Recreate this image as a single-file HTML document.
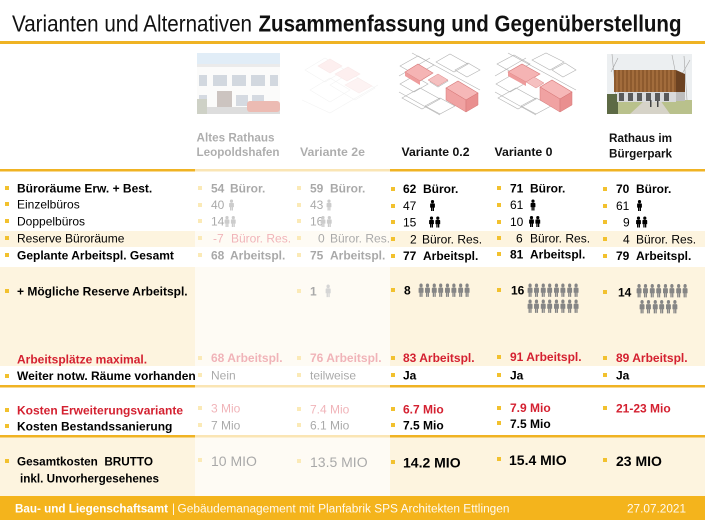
<!DOCTYPE html>
<html>
<head>
<meta charset="utf-8">
<style>
html,body{margin:0;padding:0;background:#fff;}
svg{display:block;}
text{font-family:"Liberation Sans",Arial,sans-serif;}
</style>
</head>
<body>
<svg width="705" height="529" viewBox="0 0 705 529" xmlns="http://www.w3.org/2000/svg">
<rect x="0" y="0" width="705" height="529" fill="#ffffff"/>

<!-- Title -->
<text x="12" y="31.5" font-size="23" fill="#111" textLength="240" lengthAdjust="spacingAndGlyphs">Varianten und Alternativen</text>
<text x="258.5" y="31.5" font-size="23" font-weight="bold" fill="#111" textLength="423" lengthAdjust="spacingAndGlyphs">Zusammenfassung und Gegenüberstellung</text>
<rect x="0" y="41" width="705" height="3" fill="#efb323"/>

<!-- Bands -->
<rect x="0" y="231" width="705" height="16" fill="#fdf4df"/>
<rect x="0" y="267" width="705" height="99" fill="#fdf4df"/>
<rect x="0" y="437" width="705" height="59" fill="#fdf4df"/>

<!-- Lines -->
<rect x="0" y="169" width="705" height="2.5" fill="#f0b323"/>
<rect x="0" y="385" width="705" height="2.5" fill="#f0b323"/>
<rect x="0" y="435" width="705" height="2.5" fill="#f0b323"/>

<!-- Image 1: Altes Rathaus photo -->
<g>
<rect x="197" y="53" width="83" height="61" fill="#eef1f3"/>
<rect x="197" y="53" width="83" height="14" fill="#a7c9e8"/>
<rect x="197" y="64" width="83" height="3" fill="#c4c4c4"/>
<rect x="197" y="67" width="83" height="40" fill="#f3f3f1"/>
<rect x="199" y="75" width="8" height="11" fill="#7d8ea0"/>
<rect x="213" y="75" width="14" height="11" fill="#7d8ea0"/>
<rect x="232" y="75" width="14" height="11" fill="#7d8ea0"/>
<rect x="251" y="75" width="14" height="11" fill="#7d8ea0"/>
<rect x="270" y="75" width="8" height="11" fill="#7d8ea0"/>
<rect x="199" y="95" width="8" height="11" fill="#8494a6"/>
<rect x="236" y="95" width="12" height="11" fill="#8494a6"/>
<rect x="252" y="95" width="12" height="8" fill="#8494a6"/>
<rect x="217" y="91" width="15" height="17" fill="#6a5446"/>
<rect x="197" y="107" width="83" height="7" fill="#9c9c9c"/>
<rect x="247" y="101" width="33" height="11" rx="3" fill="#c63a22"/>
<rect x="197" y="99" width="10" height="15" fill="#6f7a5a"/>
</g>

<!-- Image 2: Variante 2e (faint) -->
<g opacity="0.55" stroke="#bdbdbd" stroke-width="0.6" fill="none">
<polygon points="305,70 325,58 345,70 325,82"/>
<polygon points="330,85 350,73 375,88 355,100"/>
<polygon points="310,90 330,78 350,90 330,102"/>
<polyline points="302,100 330,113 378,85"/>
<polygon points="318,66 330,59 342,66 330,73" fill="#f3aaaa" stroke="#d88"/>
<polygon points="335,74 348,67 360,74 347,81" fill="#f3aaaa" stroke="#d88"/>
<polygon points="345,85 358,78 372,86 359,93" fill="#f6c0c0" stroke="#d99"/>
</g>

<!-- Image 3: Variante 0.2 -->
<g>
<rect x="399" y="53" width="81" height="62" fill="#ffffff"/>
<g stroke="#b3b3b3" stroke-width="0.6" fill="none">
<polygon points="400,66 418,56 434,65 416,75"/>
<polygon points="436,62 450,54 468,64 454,72"/>
<polygon points="455,70 468,63 480,70 467,77"/>
<polygon points="400,84 414,76 428,84 414,92"/>
<polygon points="402,98 420,88 440,99 422,109"/>
<polygon points="425,106 440,98 455,106 440,114"/>
<polyline points="399,92 440,115"/>
<polyline points="412,53 480,90"/>
<polyline points="399,76 430,58"/>
<polygon points="430,82 440,76 448,81 438,87"/>
</g>
<polygon points="405,72 418,64 433,73 420,81" fill="#f5b4b4" stroke="#d77878" stroke-width="0.6"/>
<polygon points="405,72 420,81 420,85 405,76" fill="#ee9c9c"/>
<polygon points="428,80 438,74 448,80 438,86" fill="#f5c0c0" stroke="#d88" stroke-width="0.5"/>
<polygon points="446,88 458,81 478,93 466,100" fill="#f6b8b8" stroke="#d77878" stroke-width="0.6"/>
<polygon points="446,88 466,100 466,112 446,100" fill="#f0a2a2" stroke="#d77878" stroke-width="0.5"/>
<polygon points="466,100 478,93 478,105 466,112" fill="#e98f8f" stroke="#d77878" stroke-width="0.5"/>
</g>

<!-- Image 4: Variante 0 -->
<g>
<rect x="495" y="53" width="81" height="62" fill="#ffffff"/>
<g stroke="#b3b3b3" stroke-width="0.6" fill="none">
<polygon points="497,64 514,55 530,64 513,73"/>
<polygon points="532,60 546,53 564,62 550,70"/>
<polygon points="552,70 565,63 576,70 563,77"/>
<polygon points="496,84 510,76 524,84 510,92"/>
<polygon points="498,98 516,88 536,99 518,109"/>
<polygon points="521,106 536,98 551,106 536,114"/>
<polyline points="495,92 536,115"/>
<polyline points="508,53 576,90"/>
<polyline points="495,76 526,58"/>
</g>
<polygon points="508,72 522,64 540,74 526,82" fill="#f5b4b4" stroke="#d77878" stroke-width="0.6"/>
<polygon points="508,72 526,82 526,86 508,76" fill="#ee9c9c"/>
<polygon points="526,82 534,77 544,83 536,88" fill="#f5c0c0" stroke="#d88" stroke-width="0.5"/>
<polygon points="540,87 552,80 572,92 560,99" fill="#f6b8b8" stroke="#d77878" stroke-width="0.6"/>
<polygon points="540,87 560,99 560,112 540,100" fill="#f0a2a2" stroke="#d77878" stroke-width="0.5"/>
<polygon points="560,99 572,92 572,105 560,112" fill="#e98f8f" stroke="#d77878" stroke-width="0.5"/>
</g>

<!-- Image 5: Rathaus im Bürgerpark -->
<g>
<rect x="607" y="54" width="85" height="60" fill="#eceff1"/>
<g stroke="#a5a5a5" stroke-width="0.6">
<line x1="612" y1="54" x2="616" y2="96"/>
<line x1="618" y1="58" x2="611" y2="72"/>
<line x1="684" y1="56" x2="687" y2="100"/>
<line x1="690" y1="60" x2="682" y2="74"/>
<line x1="672" y1="55" x2="675" y2="70"/>
</g>
<rect x="607" y="100" width="85" height="14" fill="#b9c18c"/>
<polygon points="630,114 645,100 660,100 670,114" fill="#d6d3c8"/>
<rect x="607" y="94" width="11" height="20" fill="#5d6a45"/>
<rect x="614" y="70" width="62" height="22" fill="#8d5a2e"/>
<g stroke="#b67f4a" stroke-width="1">
<line x1="617" y1="70" x2="617" y2="92"/><line x1="621" y1="70" x2="621" y2="92"/>
<line x1="625" y1="70" x2="625" y2="92"/><line x1="629" y1="70" x2="629" y2="92"/>
<line x1="633" y1="70" x2="633" y2="92"/><line x1="637" y1="70" x2="637" y2="92"/>
<line x1="641" y1="70" x2="641" y2="92"/><line x1="645" y1="70" x2="645" y2="92"/>
<line x1="649" y1="70" x2="649" y2="92"/><line x1="653" y1="70" x2="653" y2="92"/>
<line x1="657" y1="70" x2="657" y2="92"/><line x1="661" y1="70" x2="661" y2="92"/>
<line x1="665" y1="70" x2="665" y2="92"/><line x1="669" y1="70" x2="669" y2="92"/>
<line x1="673" y1="70" x2="673" y2="92"/>
</g>
<polygon points="676,70 685,74 685,93 676,92" fill="#6b4222"/>
<rect x="617" y="92" width="59" height="10" fill="#d9dadb"/>
<g fill="#5a5a5a">
<rect x="619" y="93" width="5" height="8"/><rect x="628" y="93" width="5" height="8"/>
<rect x="637" y="93" width="5" height="8"/><rect x="646" y="93" width="5" height="8"/>
<rect x="655" y="93" width="5" height="8"/><rect x="664" y="93" width="5" height="8"/>
</g>
<rect x="676" y="92" width="9" height="9" fill="#bdbdbd"/>
<rect x="650" y="100" width="1.5" height="7" fill="#444"/>
<rect x="657" y="101" width="1.5" height="6" fill="#444"/>
</g>

<!-- Column headers -->
<g font-size="12" font-weight="bold" fill="#111">
<text x="196.5" y="141.5" textLength="78" lengthAdjust="spacingAndGlyphs">Altes Rathaus</text>
<text x="196.5" y="156" textLength="83" lengthAdjust="spacingAndGlyphs">Leopoldshafen</text>
<text x="300" y="156" textLength="65" lengthAdjust="spacingAndGlyphs">Variante 2e</text>
<text x="401.5" y="156" textLength="68" lengthAdjust="spacingAndGlyphs">Variante 0.2</text>
<text x="494.5" y="156" textLength="58" lengthAdjust="spacingAndGlyphs">Variante 0</text>
<text x="609" y="142" textLength="63" lengthAdjust="spacingAndGlyphs">Rathaus im</text>
<text x="609" y="157.5" textLength="63" lengthAdjust="spacingAndGlyphs">Bürgerpark</text>
</g>

<!-- Bullets left -->
<g fill="#f2c12e">
<rect x="5" y="186" width="4" height="4"/>
<rect x="5" y="202" width="4" height="4"/>
<rect x="5" y="219" width="4" height="4"/>
<rect x="5" y="236" width="4" height="4"/>
<rect x="5" y="253" width="4" height="4"/>
<rect x="5" y="289" width="4" height="4"/>
<rect x="5" y="374" width="4" height="4"/>
<rect x="5" y="408" width="4" height="4"/>
<rect x="5" y="424" width="4" height="4"/>
<rect x="5" y="459" width="4" height="4"/>
</g>

<!-- Left labels -->
<g font-size="12" fill="#000">
<text x="17" y="192.5" font-weight="bold">Büroräume Erw. + Best.</text>
<text x="17" y="208.5">Einzelbüros</text>
<text x="17" y="225.5">Doppelbüros</text>
<text x="17" y="242.5">Reserve Büroräume</text>
<text x="17" y="259.5" font-weight="bold">Geplante Arbeitspl. Gesamt</text>
<text x="17" y="295.5" font-weight="bold">+ Mögliche Reserve Arbeitspl.</text>
<text x="17" y="363.5" font-weight="bold" fill="#d42030">Arbeitsplätze maximal.</text>
<text x="17" y="380" font-weight="bold">Weiter notw. Räume vorhanden</text>
<text x="17" y="414.5" font-weight="bold" fill="#d42030">Kosten Erweiterungsvariante</text>
<text x="17" y="430.5" font-weight="bold">Kosten Bestandssanierung</text>
<text x="17" y="465.5" font-weight="bold" textLength="136" lengthAdjust="spacingAndGlyphs">Gesamtkosten&#160;&#160;BRUTTO</text>
<text x="20" y="482.5" font-weight="bold" textLength="139" lengthAdjust="spacingAndGlyphs">inkl. Unvorhergesehenes</text>
</g>

<!-- Value bullets -->
<g fill="#f2c12e">
<rect x="198" y="186" width="4" height="4"/><rect x="297" y="186" width="4" height="4"/><rect x="391" y="187" width="4" height="4"/><rect x="497" y="186" width="4" height="4"/><rect x="603" y="187" width="4" height="4"/>
<rect x="198" y="203" width="4" height="4"/><rect x="297" y="203" width="4" height="4"/><rect x="391" y="204" width="4" height="4"/><rect x="497" y="203" width="4" height="4"/><rect x="603" y="204" width="4" height="4"/>
<rect x="198" y="219" width="4" height="4"/><rect x="297" y="219" width="4" height="4"/><rect x="391" y="220" width="4" height="4"/><rect x="497" y="220" width="4" height="4"/><rect x="603" y="220" width="4" height="4"/>
<rect x="198" y="236" width="4" height="4"/><rect x="297" y="236" width="4" height="4"/><rect x="391" y="237" width="4" height="4"/><rect x="497" y="236" width="4" height="4"/><rect x="603" y="237" width="4" height="4"/>
<rect x="198" y="253" width="4" height="4"/><rect x="297" y="253" width="4" height="4"/><rect x="391" y="254" width="4" height="4"/><rect x="497" y="252" width="4" height="4"/><rect x="603" y="254" width="4" height="4"/>
<rect x="297" y="289" width="4" height="4"/><rect x="391" y="288" width="4" height="4"/><rect x="497" y="288" width="4" height="4"/><rect x="603" y="290" width="4" height="4"/>
<rect x="198" y="356" width="4" height="4"/><rect x="297" y="356" width="4" height="4"/><rect x="391" y="356" width="4" height="4"/><rect x="497" y="355" width="4" height="4"/><rect x="603" y="356" width="4" height="4"/>
<rect x="198" y="373" width="4" height="4"/><rect x="297" y="373" width="4" height="4"/><rect x="391" y="373" width="4" height="4"/><rect x="497" y="373" width="4" height="4"/><rect x="603" y="373" width="4" height="4"/>
<rect x="198" y="406" width="4" height="4"/><rect x="297" y="407" width="4" height="4"/><rect x="391" y="407" width="4" height="4"/><rect x="497" y="406" width="4" height="4"/><rect x="603" y="406" width="4" height="4"/>
<rect x="198" y="423" width="4" height="4"/><rect x="297" y="423" width="4" height="4"/><rect x="391" y="423" width="4" height="4"/><rect x="497" y="421" width="4" height="4"/>
<rect x="198" y="458" width="4" height="4"/><rect x="297" y="459" width="4" height="4"/><rect x="391" y="460" width="4" height="4"/><rect x="497" y="457" width="4" height="4"/><rect x="603" y="458" width="4" height="4"/>
</g>

<!-- Values -->
<g font-size="12" fill="#000">
<!-- Row 1 -->
<g font-weight="bold">
<text x="211" y="192.5">54</text><text x="230" y="192.5">Büror.</text>
<text x="310" y="192.5">59</text><text x="330" y="192.5">Büror.</text>
<text x="403" y="193">62</text><text x="423" y="193">Büror.</text>
<text x="510" y="192.5">71</text><text x="530" y="192.5">Büror.</text>
<text x="616" y="193">70</text><text x="636" y="193">Büror.</text>
</g>
<!-- Row 2 -->
<text x="211" y="209">40</text>
<text x="310" y="209">43</text>
<text x="403" y="210">47</text>
<text x="510" y="209">61</text>
<text x="616" y="210">61</text>
<!-- Row 3 -->
<text x="211" y="225.5">14</text>
<text x="310" y="225.5">16</text>
<text x="403" y="226.5">15</text>
<text x="510" y="226">10</text>
<text x="623" y="226.5">9</text>
<!-- Row 4 -->
<text x="213" y="242.5" fill="#d42030">-7</text><text x="231" y="242.5" fill="#d42030">Büror. Res.</text>
<text x="318" y="242.5">0</text><text x="330" y="242.5">Büror. Res.</text>
<text x="410" y="243.5">2</text><text x="422" y="243.5">Büror. Res.</text>
<text x="516" y="242.5">6</text><text x="530" y="242.5">Büror. Res.</text>
<text x="623" y="243.5">4</text><text x="636" y="243.5">Büror. Res.</text>
<!-- Row 5 -->
<g font-weight="bold">
<text x="211" y="259.5">68</text><text x="230" y="259.5">Arbeitspl.</text>
<text x="310" y="259.5">75</text><text x="330" y="259.5">Arbeitspl.</text>
<text x="403" y="260">77</text><text x="423" y="260">Arbeitspl.</text>
<text x="510" y="258.5">81</text><text x="530" y="258.5">Arbeitspl.</text>
<text x="616" y="260">79</text><text x="636" y="260">Arbeitspl.</text>
</g>
<!-- Row 6 -->
<g font-weight="bold">
<text x="310" y="295.5">1</text>
<text x="404" y="294.5">8</text>
<text x="511" y="294.5">16</text>
<text x="618" y="296.5">14</text>
</g>
<!-- Max -->
<g font-weight="bold" fill="#d42030">
<text x="211" y="362">68 Arbeitspl.</text>
<text x="310" y="362">76 Arbeitspl.</text>
<text x="403" y="362">83 Arbeitspl.</text>
<text x="510" y="361">91 Arbeitspl.</text>
<text x="616" y="362">89 Arbeitspl.</text>
</g>
<!-- Weiter -->
<text x="211" y="379.5">Nein</text>
<text x="310" y="379.5">teilweise</text>
<text x="403" y="379.5" font-weight="bold">Ja</text>
<text x="510" y="379.5" font-weight="bold">Ja</text>
<text x="616" y="379.5" font-weight="bold">Ja</text>
<!-- Kosten Erw -->
<text x="211" y="412.5" fill="#d42030">3 Mio</text>
<text x="310" y="413.5" fill="#d42030">7.4 Mio</text>
<text x="403" y="413.5" fill="#d42030" font-weight="bold">6.7 Mio</text>
<text x="510" y="412" fill="#d42030" font-weight="bold">7.9 Mio</text>
<text x="616" y="412.5" fill="#d42030" font-weight="bold">21-23 Mio</text>
<!-- Kosten Best -->
<text x="211" y="429.5">7 Mio</text>
<text x="310" y="429.5">6.1 Mio</text>
<text x="403" y="429.5" font-weight="bold">7.5 Mio</text>
<text x="510" y="428" font-weight="bold">7.5 Mio</text>
<!-- Gesamt -->
<g font-size="14">
<text x="211" y="466">10 MIO</text>
<text x="310" y="467">13.5 MIO</text>
<text x="403" y="467.5" font-weight="bold">14.2 MIO</text>
<text x="509" y="465" font-weight="bold">15.4 MIO</text>
<text x="616" y="466" font-weight="bold">23 MIO</text>
</g>
</g>

<!-- Icons: single persons (Einzelbüros) -->
<g fill="#000">
<g transform="translate(228.5,199.5)" fill="#6a6a6a"><path d="M1.4,1.6a1.6,1.6 0 1,0 3.2,0a1.6,1.6 0 1,0 -3.2,0zM0.6,4.2Q0.6,3.4 1.4,3.4H4.6Q5.4,3.4 5.4,4.2V7.6H4.5V11H3.2V7.6H2.8V11H1.5V7.6H0.6Z"/></g>
<g transform="translate(326,199.5)" fill="#6a6a6a"><path d="M1.4,1.6a1.6,1.6 0 1,0 3.2,0a1.6,1.6 0 1,0 -3.2,0zM0.6,4.2Q0.6,3.4 1.4,3.4H4.6Q5.4,3.4 5.4,4.2V7.6H4.5V11H3.2V7.6H2.8V11H1.5V7.6H0.6Z"/></g>
<g transform="translate(429.5,200)"><path d="M1.4,1.6a1.6,1.6 0 1,0 3.2,0a1.6,1.6 0 1,0 -3.2,0zM0.6,4.2Q0.6,3.4 1.4,3.4H4.6Q5.4,3.4 5.4,4.2V7.6H4.5V11H3.2V7.6H2.8V11H1.5V7.6H0.6Z"/></g>
<g transform="translate(530,199.5)"><path d="M1.4,1.6a1.6,1.6 0 1,0 3.2,0a1.6,1.6 0 1,0 -3.2,0zM0.6,4.2Q0.6,3.4 1.4,3.4H4.6Q5.4,3.4 5.4,4.2V7.6H4.5V11H3.2V7.6H2.8V11H1.5V7.6H0.6Z"/></g>
<g transform="translate(636.5,200)"><path d="M1.4,1.6a1.6,1.6 0 1,0 3.2,0a1.6,1.6 0 1,0 -3.2,0zM0.6,4.2Q0.6,3.4 1.4,3.4H4.6Q5.4,3.4 5.4,4.2V7.6H4.5V11H3.2V7.6H2.8V11H1.5V7.6H0.6Z"/></g>
</g>

<!-- Icons: doubles (Doppelbüros) -->
<g fill="#000">
<g transform="translate(224,216)" fill="#6a6a6a"><path d="M1.4,1.6a1.6,1.6 0 1,0 3.2,0a1.6,1.6 0 1,0 -3.2,0zM0.6,4.2Q0.6,3.4 1.4,3.4H4.6Q5.4,3.4 5.4,4.2V7.6H4.5V11H3.2V7.6H2.8V11H1.5V7.6H0.6Z"/><path transform="translate(6.3,0)" d="M1.4,1.6a1.6,1.6 0 1,0 3.2,0a1.6,1.6 0 1,0 -3.2,0zM0.6,4.2Q0.6,3.4 1.4,3.4H4.6Q5.4,3.4 5.4,4.2V7.6H4.5V11H3.2V7.6H2.8V11H1.5V7.6H0.6Z"/></g>
<g transform="translate(320,216)" fill="#6a6a6a"><path d="M1.4,1.6a1.6,1.6 0 1,0 3.2,0a1.6,1.6 0 1,0 -3.2,0zM0.6,4.2Q0.6,3.4 1.4,3.4H4.6Q5.4,3.4 5.4,4.2V7.6H4.5V11H3.2V7.6H2.8V11H1.5V7.6H0.6Z"/><path transform="translate(6.3,0)" d="M1.4,1.6a1.6,1.6 0 1,0 3.2,0a1.6,1.6 0 1,0 -3.2,0zM0.6,4.2Q0.6,3.4 1.4,3.4H4.6Q5.4,3.4 5.4,4.2V7.6H4.5V11H3.2V7.6H2.8V11H1.5V7.6H0.6Z"/></g>
<g transform="translate(428.5,216.5)"><path d="M1.4,1.6a1.6,1.6 0 1,0 3.2,0a1.6,1.6 0 1,0 -3.2,0zM0.6,4.2Q0.6,3.4 1.4,3.4H4.6Q5.4,3.4 5.4,4.2V7.6H4.5V11H3.2V7.6H2.8V11H1.5V7.6H0.6Z"/><path transform="translate(6.3,0)" d="M1.4,1.6a1.6,1.6 0 1,0 3.2,0a1.6,1.6 0 1,0 -3.2,0zM0.6,4.2Q0.6,3.4 1.4,3.4H4.6Q5.4,3.4 5.4,4.2V7.6H4.5V11H3.2V7.6H2.8V11H1.5V7.6H0.6Z"/></g>
<g transform="translate(528.5,216)"><path d="M1.4,1.6a1.6,1.6 0 1,0 3.2,0a1.6,1.6 0 1,0 -3.2,0zM0.6,4.2Q0.6,3.4 1.4,3.4H4.6Q5.4,3.4 5.4,4.2V7.6H4.5V11H3.2V7.6H2.8V11H1.5V7.6H0.6Z"/><path transform="translate(6.3,0)" d="M1.4,1.6a1.6,1.6 0 1,0 3.2,0a1.6,1.6 0 1,0 -3.2,0zM0.6,4.2Q0.6,3.4 1.4,3.4H4.6Q5.4,3.4 5.4,4.2V7.6H4.5V11H3.2V7.6H2.8V11H1.5V7.6H0.6Z"/></g>
<g transform="translate(635.5,216.5)"><path d="M1.4,1.6a1.6,1.6 0 1,0 3.2,0a1.6,1.6 0 1,0 -3.2,0zM0.6,4.2Q0.6,3.4 1.4,3.4H4.6Q5.4,3.4 5.4,4.2V7.6H4.5V11H3.2V7.6H2.8V11H1.5V7.6H0.6Z"/><path transform="translate(6.3,0)" d="M1.4,1.6a1.6,1.6 0 1,0 3.2,0a1.6,1.6 0 1,0 -3.2,0zM0.6,4.2Q0.6,3.4 1.4,3.4H4.6Q5.4,3.4 5.4,4.2V7.6H4.5V11H3.2V7.6H2.8V11H1.5V7.6H0.6Z"/></g>
</g>

<!-- Icons: reserve (gray) -->
<g fill="#858585">
<g transform="translate(325,284.5) scale(1.05,1.15)"><path d="M1.4,1.6a1.6,1.6 0 1,0 3.2,0a1.6,1.6 0 1,0 -3.2,0zM0.6,4.2Q0.6,3.4 1.4,3.4H4.6Q5.4,3.4 5.4,4.2V7.6H4.5V11H3.2V7.6H2.8V11H1.5V7.6H0.6Z"/></g>

<!-- col3 row1 -->
<g transform="translate(418,283.5) scale(1.02,1.22)"><path d="M1.4,1.6a1.6,1.6 0 1,0 3.2,0a1.6,1.6 0 1,0 -3.2,0zM0.6,4.2Q0.6,3.4 1.4,3.4H4.6Q5.4,3.4 5.4,4.2V7.6H4.5V11H3.2V7.6H2.8V11H1.5V7.6H0.6Z"/><path transform="translate(6.3,0)" d="M1.4,1.6a1.6,1.6 0 1,0 3.2,0a1.6,1.6 0 1,0 -3.2,0zM0.6,4.2Q0.6,3.4 1.4,3.4H4.6Q5.4,3.4 5.4,4.2V7.6H4.5V11H3.2V7.6H2.8V11H1.5V7.6H0.6Z"/></g>
<g transform="translate(431.2,283.5) scale(1.02,1.22)"><path d="M1.4,1.6a1.6,1.6 0 1,0 3.2,0a1.6,1.6 0 1,0 -3.2,0zM0.6,4.2Q0.6,3.4 1.4,3.4H4.6Q5.4,3.4 5.4,4.2V7.6H4.5V11H3.2V7.6H2.8V11H1.5V7.6H0.6Z"/><path transform="translate(6.3,0)" d="M1.4,1.6a1.6,1.6 0 1,0 3.2,0a1.6,1.6 0 1,0 -3.2,0zM0.6,4.2Q0.6,3.4 1.4,3.4H4.6Q5.4,3.4 5.4,4.2V7.6H4.5V11H3.2V7.6H2.8V11H1.5V7.6H0.6Z"/></g>
<g transform="translate(444.4,283.5) scale(1.02,1.22)"><path d="M1.4,1.6a1.6,1.6 0 1,0 3.2,0a1.6,1.6 0 1,0 -3.2,0zM0.6,4.2Q0.6,3.4 1.4,3.4H4.6Q5.4,3.4 5.4,4.2V7.6H4.5V11H3.2V7.6H2.8V11H1.5V7.6H0.6Z"/><path transform="translate(6.3,0)" d="M1.4,1.6a1.6,1.6 0 1,0 3.2,0a1.6,1.6 0 1,0 -3.2,0zM0.6,4.2Q0.6,3.4 1.4,3.4H4.6Q5.4,3.4 5.4,4.2V7.6H4.5V11H3.2V7.6H2.8V11H1.5V7.6H0.6Z"/></g>
<g transform="translate(457.6,283.5) scale(1.02,1.22)"><path d="M1.4,1.6a1.6,1.6 0 1,0 3.2,0a1.6,1.6 0 1,0 -3.2,0zM0.6,4.2Q0.6,3.4 1.4,3.4H4.6Q5.4,3.4 5.4,4.2V7.6H4.5V11H3.2V7.6H2.8V11H1.5V7.6H0.6Z"/><path transform="translate(6.3,0)" d="M1.4,1.6a1.6,1.6 0 1,0 3.2,0a1.6,1.6 0 1,0 -3.2,0zM0.6,4.2Q0.6,3.4 1.4,3.4H4.6Q5.4,3.4 5.4,4.2V7.6H4.5V11H3.2V7.6H2.8V11H1.5V7.6H0.6Z"/></g>

<!-- col4 row1 -->
<g transform="translate(527,283.5) scale(1.02,1.22)"><path d="M1.4,1.6a1.6,1.6 0 1,0 3.2,0a1.6,1.6 0 1,0 -3.2,0zM0.6,4.2Q0.6,3.4 1.4,3.4H4.6Q5.4,3.4 5.4,4.2V7.6H4.5V11H3.2V7.6H2.8V11H1.5V7.6H0.6Z"/><path transform="translate(6.3,0)" d="M1.4,1.6a1.6,1.6 0 1,0 3.2,0a1.6,1.6 0 1,0 -3.2,0zM0.6,4.2Q0.6,3.4 1.4,3.4H4.6Q5.4,3.4 5.4,4.2V7.6H4.5V11H3.2V7.6H2.8V11H1.5V7.6H0.6Z"/></g>
<g transform="translate(540.2,283.5) scale(1.02,1.22)"><path d="M1.4,1.6a1.6,1.6 0 1,0 3.2,0a1.6,1.6 0 1,0 -3.2,0zM0.6,4.2Q0.6,3.4 1.4,3.4H4.6Q5.4,3.4 5.4,4.2V7.6H4.5V11H3.2V7.6H2.8V11H1.5V7.6H0.6Z"/><path transform="translate(6.3,0)" d="M1.4,1.6a1.6,1.6 0 1,0 3.2,0a1.6,1.6 0 1,0 -3.2,0zM0.6,4.2Q0.6,3.4 1.4,3.4H4.6Q5.4,3.4 5.4,4.2V7.6H4.5V11H3.2V7.6H2.8V11H1.5V7.6H0.6Z"/></g>
<g transform="translate(553.4,283.5) scale(1.02,1.22)"><path d="M1.4,1.6a1.6,1.6 0 1,0 3.2,0a1.6,1.6 0 1,0 -3.2,0zM0.6,4.2Q0.6,3.4 1.4,3.4H4.6Q5.4,3.4 5.4,4.2V7.6H4.5V11H3.2V7.6H2.8V11H1.5V7.6H0.6Z"/><path transform="translate(6.3,0)" d="M1.4,1.6a1.6,1.6 0 1,0 3.2,0a1.6,1.6 0 1,0 -3.2,0zM0.6,4.2Q0.6,3.4 1.4,3.4H4.6Q5.4,3.4 5.4,4.2V7.6H4.5V11H3.2V7.6H2.8V11H1.5V7.6H0.6Z"/></g>
<g transform="translate(566.6,283.5) scale(1.02,1.22)"><path d="M1.4,1.6a1.6,1.6 0 1,0 3.2,0a1.6,1.6 0 1,0 -3.2,0zM0.6,4.2Q0.6,3.4 1.4,3.4H4.6Q5.4,3.4 5.4,4.2V7.6H4.5V11H3.2V7.6H2.8V11H1.5V7.6H0.6Z"/><path transform="translate(6.3,0)" d="M1.4,1.6a1.6,1.6 0 1,0 3.2,0a1.6,1.6 0 1,0 -3.2,0zM0.6,4.2Q0.6,3.4 1.4,3.4H4.6Q5.4,3.4 5.4,4.2V7.6H4.5V11H3.2V7.6H2.8V11H1.5V7.6H0.6Z"/></g>
<!-- col4 row2 -->
<g transform="translate(527,299.5) scale(1.02,1.22)"><path d="M1.4,1.6a1.6,1.6 0 1,0 3.2,0a1.6,1.6 0 1,0 -3.2,0zM0.6,4.2Q0.6,3.4 1.4,3.4H4.6Q5.4,3.4 5.4,4.2V7.6H4.5V11H3.2V7.6H2.8V11H1.5V7.6H0.6Z"/><path transform="translate(6.3,0)" d="M1.4,1.6a1.6,1.6 0 1,0 3.2,0a1.6,1.6 0 1,0 -3.2,0zM0.6,4.2Q0.6,3.4 1.4,3.4H4.6Q5.4,3.4 5.4,4.2V7.6H4.5V11H3.2V7.6H2.8V11H1.5V7.6H0.6Z"/></g>
<g transform="translate(540.2,299.5) scale(1.02,1.22)"><path d="M1.4,1.6a1.6,1.6 0 1,0 3.2,0a1.6,1.6 0 1,0 -3.2,0zM0.6,4.2Q0.6,3.4 1.4,3.4H4.6Q5.4,3.4 5.4,4.2V7.6H4.5V11H3.2V7.6H2.8V11H1.5V7.6H0.6Z"/><path transform="translate(6.3,0)" d="M1.4,1.6a1.6,1.6 0 1,0 3.2,0a1.6,1.6 0 1,0 -3.2,0zM0.6,4.2Q0.6,3.4 1.4,3.4H4.6Q5.4,3.4 5.4,4.2V7.6H4.5V11H3.2V7.6H2.8V11H1.5V7.6H0.6Z"/></g>
<g transform="translate(553.4,299.5) scale(1.02,1.22)"><path d="M1.4,1.6a1.6,1.6 0 1,0 3.2,0a1.6,1.6 0 1,0 -3.2,0zM0.6,4.2Q0.6,3.4 1.4,3.4H4.6Q5.4,3.4 5.4,4.2V7.6H4.5V11H3.2V7.6H2.8V11H1.5V7.6H0.6Z"/><path transform="translate(6.3,0)" d="M1.4,1.6a1.6,1.6 0 1,0 3.2,0a1.6,1.6 0 1,0 -3.2,0zM0.6,4.2Q0.6,3.4 1.4,3.4H4.6Q5.4,3.4 5.4,4.2V7.6H4.5V11H3.2V7.6H2.8V11H1.5V7.6H0.6Z"/></g>
<g transform="translate(566.6,299.5) scale(1.02,1.22)"><path d="M1.4,1.6a1.6,1.6 0 1,0 3.2,0a1.6,1.6 0 1,0 -3.2,0zM0.6,4.2Q0.6,3.4 1.4,3.4H4.6Q5.4,3.4 5.4,4.2V7.6H4.5V11H3.2V7.6H2.8V11H1.5V7.6H0.6Z"/><path transform="translate(6.3,0)" d="M1.4,1.6a1.6,1.6 0 1,0 3.2,0a1.6,1.6 0 1,0 -3.2,0zM0.6,4.2Q0.6,3.4 1.4,3.4H4.6Q5.4,3.4 5.4,4.2V7.6H4.5V11H3.2V7.6H2.8V11H1.5V7.6H0.6Z"/></g>

<!-- col5 row1 -->
<g transform="translate(636,284) scale(1.02,1.22)"><path d="M1.4,1.6a1.6,1.6 0 1,0 3.2,0a1.6,1.6 0 1,0 -3.2,0zM0.6,4.2Q0.6,3.4 1.4,3.4H4.6Q5.4,3.4 5.4,4.2V7.6H4.5V11H3.2V7.6H2.8V11H1.5V7.6H0.6Z"/><path transform="translate(6.3,0)" d="M1.4,1.6a1.6,1.6 0 1,0 3.2,0a1.6,1.6 0 1,0 -3.2,0zM0.6,4.2Q0.6,3.4 1.4,3.4H4.6Q5.4,3.4 5.4,4.2V7.6H4.5V11H3.2V7.6H2.8V11H1.5V7.6H0.6Z"/></g>
<g transform="translate(649.2,284) scale(1.02,1.22)"><path d="M1.4,1.6a1.6,1.6 0 1,0 3.2,0a1.6,1.6 0 1,0 -3.2,0zM0.6,4.2Q0.6,3.4 1.4,3.4H4.6Q5.4,3.4 5.4,4.2V7.6H4.5V11H3.2V7.6H2.8V11H1.5V7.6H0.6Z"/><path transform="translate(6.3,0)" d="M1.4,1.6a1.6,1.6 0 1,0 3.2,0a1.6,1.6 0 1,0 -3.2,0zM0.6,4.2Q0.6,3.4 1.4,3.4H4.6Q5.4,3.4 5.4,4.2V7.6H4.5V11H3.2V7.6H2.8V11H1.5V7.6H0.6Z"/></g>
<g transform="translate(662.4,284) scale(1.02,1.22)"><path d="M1.4,1.6a1.6,1.6 0 1,0 3.2,0a1.6,1.6 0 1,0 -3.2,0zM0.6,4.2Q0.6,3.4 1.4,3.4H4.6Q5.4,3.4 5.4,4.2V7.6H4.5V11H3.2V7.6H2.8V11H1.5V7.6H0.6Z"/><path transform="translate(6.3,0)" d="M1.4,1.6a1.6,1.6 0 1,0 3.2,0a1.6,1.6 0 1,0 -3.2,0zM0.6,4.2Q0.6,3.4 1.4,3.4H4.6Q5.4,3.4 5.4,4.2V7.6H4.5V11H3.2V7.6H2.8V11H1.5V7.6H0.6Z"/></g>
<g transform="translate(675.6,284) scale(1.02,1.22)"><path d="M1.4,1.6a1.6,1.6 0 1,0 3.2,0a1.6,1.6 0 1,0 -3.2,0zM0.6,4.2Q0.6,3.4 1.4,3.4H4.6Q5.4,3.4 5.4,4.2V7.6H4.5V11H3.2V7.6H2.8V11H1.5V7.6H0.6Z"/><path transform="translate(6.3,0)" d="M1.4,1.6a1.6,1.6 0 1,0 3.2,0a1.6,1.6 0 1,0 -3.2,0zM0.6,4.2Q0.6,3.4 1.4,3.4H4.6Q5.4,3.4 5.4,4.2V7.6H4.5V11H3.2V7.6H2.8V11H1.5V7.6H0.6Z"/></g>
<!-- col5 row2 -->
<g transform="translate(639,300) scale(1.02,1.22)"><path d="M1.4,1.6a1.6,1.6 0 1,0 3.2,0a1.6,1.6 0 1,0 -3.2,0zM0.6,4.2Q0.6,3.4 1.4,3.4H4.6Q5.4,3.4 5.4,4.2V7.6H4.5V11H3.2V7.6H2.8V11H1.5V7.6H0.6Z"/><path transform="translate(6.3,0)" d="M1.4,1.6a1.6,1.6 0 1,0 3.2,0a1.6,1.6 0 1,0 -3.2,0zM0.6,4.2Q0.6,3.4 1.4,3.4H4.6Q5.4,3.4 5.4,4.2V7.6H4.5V11H3.2V7.6H2.8V11H1.5V7.6H0.6Z"/></g>
<g transform="translate(652.2,300) scale(1.02,1.22)"><path d="M1.4,1.6a1.6,1.6 0 1,0 3.2,0a1.6,1.6 0 1,0 -3.2,0zM0.6,4.2Q0.6,3.4 1.4,3.4H4.6Q5.4,3.4 5.4,4.2V7.6H4.5V11H3.2V7.6H2.8V11H1.5V7.6H0.6Z"/><path transform="translate(6.3,0)" d="M1.4,1.6a1.6,1.6 0 1,0 3.2,0a1.6,1.6 0 1,0 -3.2,0zM0.6,4.2Q0.6,3.4 1.4,3.4H4.6Q5.4,3.4 5.4,4.2V7.6H4.5V11H3.2V7.6H2.8V11H1.5V7.6H0.6Z"/></g>
<g transform="translate(665.4,300) scale(1.02,1.22)"><path d="M1.4,1.6a1.6,1.6 0 1,0 3.2,0a1.6,1.6 0 1,0 -3.2,0zM0.6,4.2Q0.6,3.4 1.4,3.4H4.6Q5.4,3.4 5.4,4.2V7.6H4.5V11H3.2V7.6H2.8V11H1.5V7.6H0.6Z"/><path transform="translate(6.3,0)" d="M1.4,1.6a1.6,1.6 0 1,0 3.2,0a1.6,1.6 0 1,0 -3.2,0zM0.6,4.2Q0.6,3.4 1.4,3.4H4.6Q5.4,3.4 5.4,4.2V7.6H4.5V11H3.2V7.6H2.8V11H1.5V7.6H0.6Z"/></g>
</g>

<!-- Fade overlay for the first two columns -->
<rect x="195" y="46" width="195" height="450" fill="#ffffff" opacity="0.66"/>

<!-- Footer -->
<rect x="0" y="496" width="705" height="24" fill="#f4b41c"/>
<text x="15" y="512.5" font-size="11.5" font-weight="bold" fill="#ffffff" textLength="153" lengthAdjust="spacingAndGlyphs">Bau- und Liegenschaftsamt</text>
<text x="172" y="512.5" font-size="11.5" fill="#fffaf0">|</text>
<text x="177.5" y="512.5" font-size="11.5" fill="#fffaf0" textLength="332" lengthAdjust="spacingAndGlyphs">Gebäudemanagement mit Planfabrik SPS Architekten Ettlingen</text>
<text x="627" y="512.5" font-size="11.5" fill="#fffaf0" textLength="59" lengthAdjust="spacingAndGlyphs">27.07.2021</text>
</svg>
</body>
</html>
